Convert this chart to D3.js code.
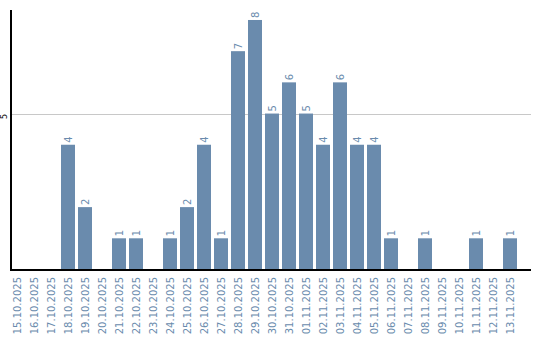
<!DOCTYPE html>
<html>
<head>
<meta charset="utf-8">
<script src="https://cdn.jsdelivr.net/npm/d3@7"></script>
<style>
  body { margin: 0; background: #fff; }
  text { font-family: "DejaVu Sans", sans-serif; }
</style>
</head>
<body>
<div id="chart"></div>
<script>
// dates and daily counts
const dates = [
  "15.10.2025", "16.10.2025", "17.10.2025", "18.10.2025", "19.10.2025",
  "20.10.2025", "21.10.2025", "22.10.2025", "23.10.2025", "24.10.2025",
  "25.10.2025", "26.10.2025", "27.10.2025", "28.10.2025", "29.10.2025",
  "30.10.2025", "31.10.2025", "01.11.2025", "02.11.2025", "03.11.2025",
  "04.11.2025", "05.11.2025", "06.11.2025", "07.11.2025", "08.11.2025",
  "09.11.2025", "10.11.2025", "11.11.2025", "12.11.2025", "13.11.2025"
];
const counts = [0, 0, 0, 4, 2, 0, 1, 1, 0, 1, 2, 4, 1, 7, 8, 5, 6, 5, 4, 6, 4, 4, 1, 0, 1, 0, 0, 1, 0, 1];
const yTicks = [5];

const width = 540, height = 340;
const barColor = "#6a8bad";

const rows = dates.map((d, i) => ({ date: d, value: counts[i] }));

const svg = d3.select("#chart").append("svg")
  .attr("width", width)
  .attr("height", height);

// scales
const x = d3.scaleBand()
  .domain(dates)
  .range([8.5, 518.5])
  .paddingInner(3 / 17)
  .paddingOuter(1.5 / 17);

const y = d3.scaleLinear()
  .domain([0, 8.32])
  .range([269.5, 10]);

// grid line
svg.append("g")
  .selectAll("line")
  .data(yTicks)
  .join("line")
  .attr("x1", 11)
  .attr("x2", 531)
  .attr("y1", d => Math.round(y(d)) + 0.5)
  .attr("y2", d => Math.round(y(d)) + 0.5)
  .attr("stroke", "#c8c8c8");

// y tick labels
svg.append("g")
  .selectAll("text")
  .data(yTicks)
  .join("text")
  .attr("transform", d => `translate(6.5,${y(d) + 3}) rotate(-90)`)
  .attr("text-anchor", "middle")
  .style("font-size", "8px")
  .attr("fill", "#000")
  .text(d => d);

// bars
svg.append("g")
  .selectAll("rect")
  .data(rows)
  .join("rect")
  .attr("x", d => x(d.date))
  .attr("y", d => y(d.value))
  .attr("width", x.bandwidth())
  .attr("height", d => y(0) - y(d.value))
  .attr("fill", barColor);

// value labels
svg.append("g")
  .selectAll("text")
  .data(rows.filter(d => d.value > 0))
  .join("text")
  .attr("transform", d => `translate(${x(d.date) + x.bandwidth() / 2 + 4},${y(d.value) - 2}) rotate(-90)`)
  .attr("text-anchor", "start")
  .style("font-size", "10px")
  .attr("fill", barColor)
  .text(d => d.value);

// axes lines
svg.append("line")
  .attr("x1", 11).attr("x2", 11)
  .attr("y1", 10).attr("y2", 270.5)
  .attr("stroke", "#000").attr("stroke-width", 2);
svg.append("line")
  .attr("x1", 10).attr("x2", 531)
  .attr("y1", 270).attr("y2", 270)
  .attr("stroke", "#000").attr("stroke-width", 2);

// date labels
svg.append("g")
  .selectAll("text")
  .data(dates)
  .join("text")
  .attr("transform", d => `translate(${x(d) + x.bandwidth() / 2 + 4},277) rotate(-90)`)
  .attr("text-anchor", "end")
  .style("font-size", "10px")
  .attr("fill", barColor)
  .text(d => d);
</script>
</body>
</html>
